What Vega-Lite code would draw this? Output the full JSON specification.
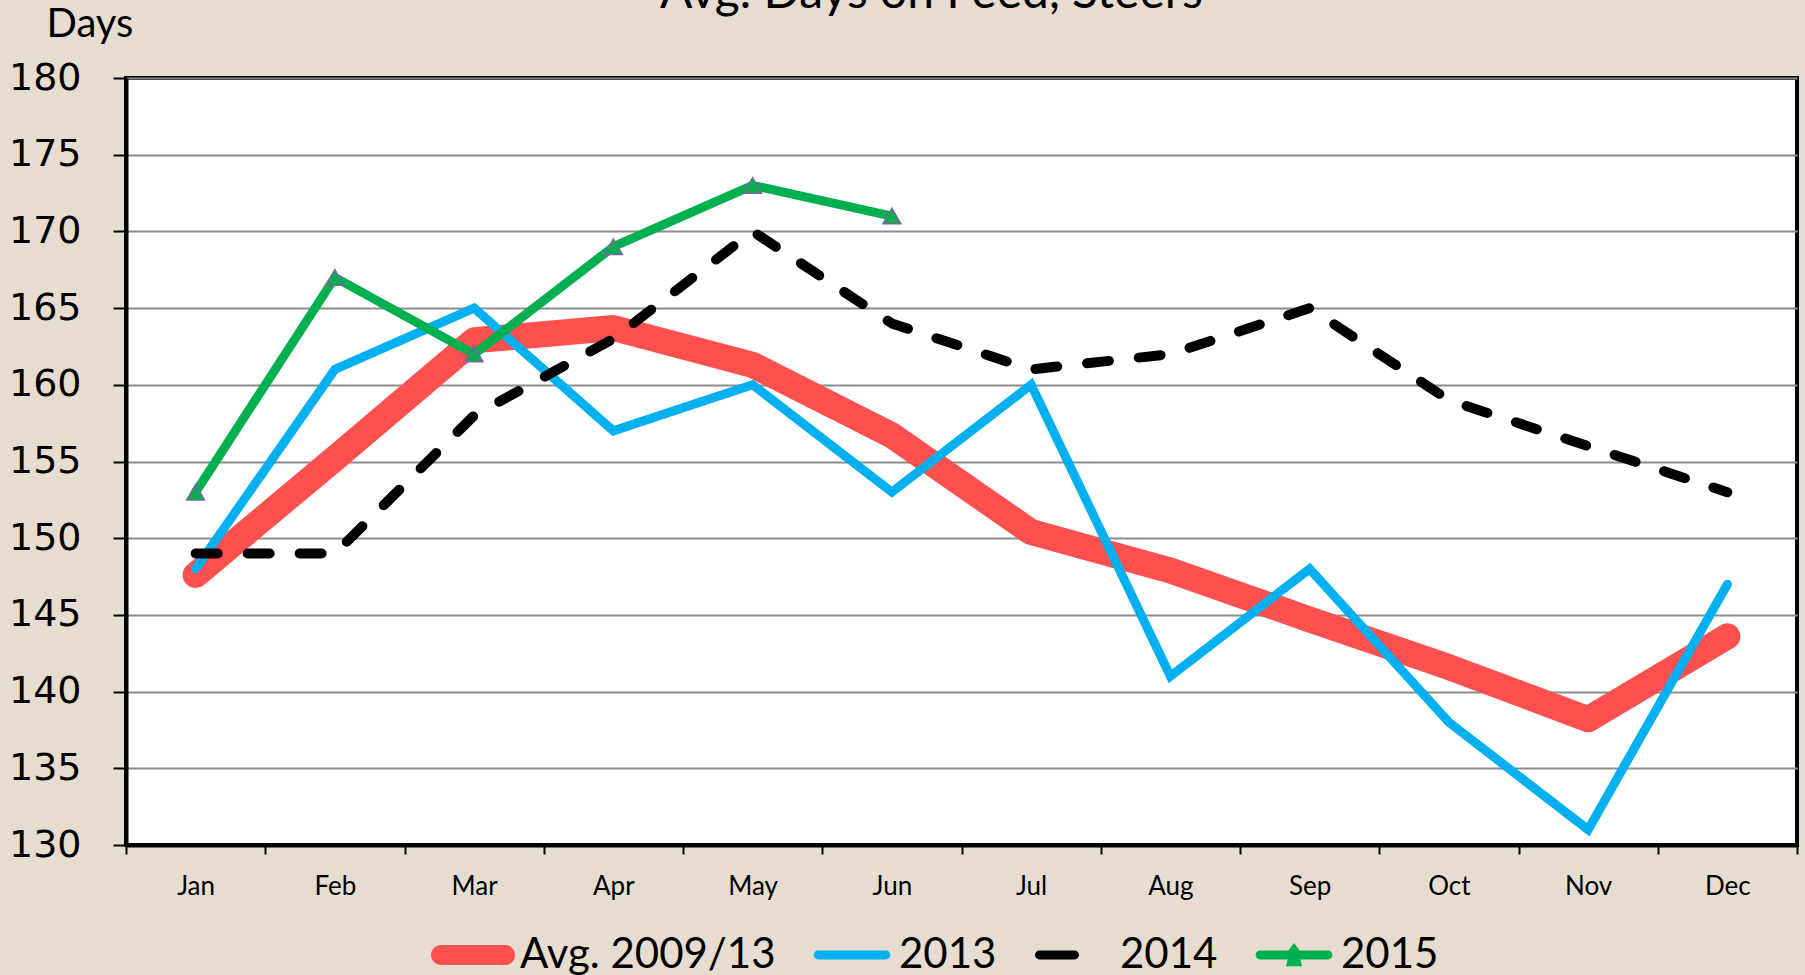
{
  "$schema": "https://vega.github.io/schema/vega-lite/v6.json",
  "autosize": {"type": "none"},
  "width": 1671,
  "height": 767,
  "padding": {"left": 126, "top": 78, "right": 8, "bottom": 130},
  "background": "#e6ddd0",
  "title": {
    "text": "Avg. Days on Feed, Steers",
    "font": "Lato",
    "fontSize": 48,
    "fontWeight": "normal",
    "color": "#000000",
    "anchor": "middle",
    "frame": "group",
    "baseline": "alphabetic",
    "dx": -30,
    "offset": 0,
    "dy": 52
  },
  "config": {
    "view": {"fill": "#ffffff", "stroke": "#000000", "strokeWidth": 4},
    "axis": {"domainColor": "#000000", "domainWidth": 4, "tickColor": "#000000", "tickWidth": 2, "labelColor": "#000000"}
  },
  "data": {
    "values": [
      {"m": 1, "series": "Avg. 2009/13", "v": 147.6},
      {"m": 2, "series": "Avg. 2009/13", "v": 155.2},
      {"m": 3, "series": "Avg. 2009/13", "v": 162.9},
      {"m": 4, "series": "Avg. 2009/13", "v": 163.7},
      {"m": 5, "series": "Avg. 2009/13", "v": 161.3},
      {"m": 6, "series": "Avg. 2009/13", "v": 156.7},
      {"m": 7, "series": "Avg. 2009/13", "v": 150.4},
      {"m": 8, "series": "Avg. 2009/13", "v": 147.9},
      {"m": 9, "series": "Avg. 2009/13", "v": 144.7},
      {"m": 10, "series": "Avg. 2009/13", "v": 141.6},
      {"m": 11, "series": "Avg. 2009/13", "v": 138.2},
      {"m": 12, "series": "Avg. 2009/13", "v": 143.6},
      {"m": 1, "series": "2013", "v": 148},
      {"m": 2, "series": "2013", "v": 161},
      {"m": 3, "series": "2013", "v": 165},
      {"m": 4, "series": "2013", "v": 157},
      {"m": 5, "series": "2013", "v": 160},
      {"m": 6, "series": "2013", "v": 153},
      {"m": 7, "series": "2013", "v": 160},
      {"m": 8, "series": "2013", "v": 141},
      {"m": 9, "series": "2013", "v": 148},
      {"m": 10, "series": "2013", "v": 138},
      {"m": 11, "series": "2013", "v": 131},
      {"m": 12, "series": "2013", "v": 147},
      {"m": 1, "series": "2014", "v": 149},
      {"m": 2, "series": "2014", "v": 149},
      {"m": 3, "series": "2014", "v": 158},
      {"m": 4, "series": "2014", "v": 163},
      {"m": 5, "series": "2014", "v": 170},
      {"m": 6, "series": "2014", "v": 164},
      {"m": 7, "series": "2014", "v": 161},
      {"m": 8, "series": "2014", "v": 162},
      {"m": 9, "series": "2014", "v": 165},
      {"m": 10, "series": "2014", "v": 159},
      {"m": 11, "series": "2014", "v": 156},
      {"m": 12, "series": "2014", "v": 153},
      {"m": 1, "series": "2015", "v": 153},
      {"m": 2, "series": "2015", "v": 167},
      {"m": 3, "series": "2015", "v": 162},
      {"m": 4, "series": "2015", "v": 169},
      {"m": 5, "series": "2015", "v": 173},
      {"m": 6, "series": "2015", "v": 171}
    ]
  },
  "encoding": {
    "x": {
      "field": "m",
      "type": "quantitative",
      "scale": {"domain": [0.5, 12.5], "nice": false, "zero": false},
      "axis": {
        "title": null,
        "values": [0.5, 1.5, 2.5, 3.5, 4.5, 5.5, 6.5, 7.5, 8.5, 9.5, 10.5, 11.5, 12.5],
        "labelExpr": "datum.value < 12 ? ['Jan','Feb','Mar','Apr','May','Jun','Jul','Aug','Sep','Oct','Nov','Dec'][datum.value - 0.5] : ''",
        "labelOffset": 69.6,
        "labelOverlap": false,
        "labelFlush": false,
        "labelBound": false,
        "labelFont": "Lato",
        "labelFontSize": 26,
        "labelPadding": 19,
        "tickSize": 9,
        "grid": false
      }
    },
    "y": {
      "field": "v",
      "type": "quantitative",
      "scale": {"domain": [130, 180], "nice": false, "zero": false},
      "axis": {
        "values": [130, 135, 140, 145, 150, 155, 160, 165, 170, 175, 180],
        "title": "Days",
        "titleAngle": 0,
        "titleAlign": "left",
        "titleBaseline": "alphabetic",
        "titleX": -80,
        "titleY": -42,
        "titleFont": "Lato",
        "titleFontSize": 40,
        "titleFontWeight": "normal",
        "titleColor": "#000000",
        "labelFont": "DejaVu Sans",
        "labelFontSize": 38,
        "labelPadding": 32,
        "tickSize": 13,
        "grid": true,
        "gridColor": "#8c8c8c",
        "gridWidth": 2
      }
    },
    "color": {
      "field": "series",
      "type": "nominal",
      "scale": {"domain": ["Avg. 2009/13", "2013", "2014", "2015"], "range": ["#ff5050", "#00b0f0", "#000000", "#00b050"]},
      "legend": {
        "title": null,
        "orient": "none",
        "direction": "horizontal",
        "legendX": 307,
        "legendY": 837,
        "symbolType": "square",
        "symbolSize": 6400,
        "symbolStrokeWidth": 0,
        "labelFont": "Lato",
        "labelFontSize": 42,
        "labelLimit": 0,
        "labelColor": "#000000",
        "labelOffset": 7,
        "columnPadding": 36,
        "encode": {
          "symbols": {
            "update": {
              "shape": {"signal": "datum.value === 'Avg. 2009/13' ? 'M-0.8,-0.25 L0.8,-0.25 A0.25,0.25 0 0 1 0.8,0.25 L-0.8,0.25 A0.25,0.25 0 0 1 -0.8,-0.25 Z' : datum.value === '2014' ? 'M-0.84,-0.11 L0.04,-0.11 A0.11,0.11 0 0 1 0.04,0.11 L-0.84,0.11 A0.11,0.11 0 0 1 -0.84,-0.11 Z' : datum.value === '2015' ? 'M-0.85,-0.11 L-0.14,-0.11 L0,-0.3 L0.14,-0.11 L0.85,-0.11 A0.11,0.11 0 0 1 0.85,0.11 L0.16,0.11 L0.2,0.28 L-0.2,0.28 L-0.16,0.11 L-0.85,0.11 A0.11,0.11 0 0 1 -0.85,-0.11 Z' : 'M-0.85,-0.11 L0.85,-0.11 A0.11,0.11 0 0 1 0.85,0.11 L-0.85,0.11 A0.11,0.11 0 0 1 -0.85,-0.11 Z'"},
              "fill": {"signal": "scale('color', datum.value)"},
              "fillOpacity": {"value": 1},
              "opacity": {"value": 1},
              "strokeWidth": {"value": 0}
            }
          }
        }
      }
    }
  },
  "layer": [
    {
      "transform": [{"filter": "datum.series === 'Avg. 2009/13'"}],
      "mark": {"type": "line", "strokeWidth": 26, "strokeCap": "round", "strokeJoin": "round"}
    },
    {
      "transform": [{"filter": "datum.series === '2013'"}],
      "mark": {"type": "line", "strokeWidth": 9, "strokeCap": "round", "strokeJoin": "miter"}
    },
    {
      "transform": [{"filter": "datum.series === '2014'"}],
      "mark": {"type": "line", "strokeWidth": 10, "strokeCap": "round", "strokeJoin": "round", "strokeDash": [22, 30]}
    },
    {
      "transform": [{"filter": "datum.series === '2015'"}],
      "mark": {"type": "line", "strokeWidth": 9, "strokeCap": "round", "strokeJoin": "round"}
    },
    {
      "transform": [{"filter": "datum.series === '2015'"}],
      "mark": {"type": "point", "shape": "triangle-up", "filled": true, "stroke": "#8064a2", "strokeWidth": 1.5, "size": 320, "opacity": 1}
    }
  ]
}
